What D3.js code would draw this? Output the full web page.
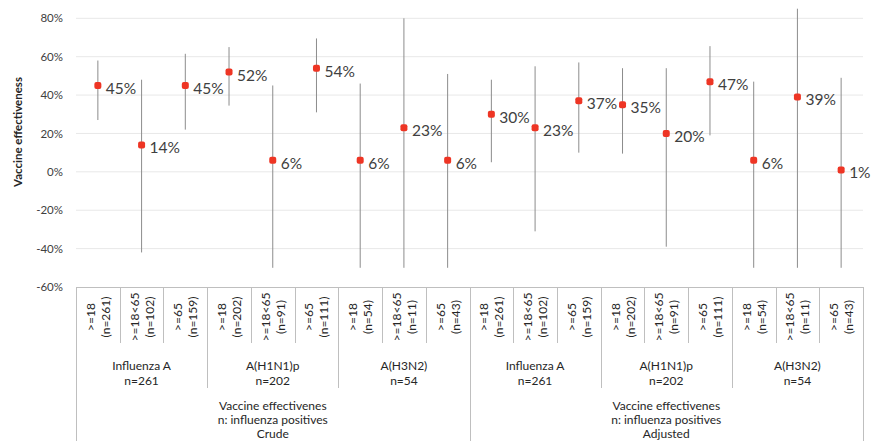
<!DOCTYPE html>
<html><head><meta charset="utf-8">
<script src="https://cdn.jsdelivr.net/npm/d3@7"></script>
<style>body{margin:0;background:#fff}svg{display:block}</style>
</head><body>
<svg id="c" width="886" height="441"></svg>
<script>
const ageLabels = [">=18", ">=18<65", ">=65", ">=18", ">=18<65", ">=65", ">=18", ">=18<65", ">=65",
                   ">=18", ">=18<65", ">=65", ">=18", ">=18<65", ">=65", ">=18", ">=18<65", ">=65"];
const nLabels = ["(n=261)", "(n=102)", "(n=159)", "(n=202)", "(n=91)", "(n=111)", "(n=54)", "(n=11)", "(n=43)",
                 "(n=261)", "(n=102)", "(n=159)", "(n=202)", "(n=91)", "(n=111)", "(n=54)", "(n=11)", "(n=43)"];
const strainLabels = ["Influenza A", "A(H1N1)p", "A(H3N2)", "Influenza A", "A(H1N1)p", "A(H3N2)"];
const strainN = ["n=261", "n=202", "n=54", "n=261", "n=202", "n=54"];
const analysisLabels = ["Crude", "Adjusted"];
const ve    = [45, 14, 45, 52, 6, 54, 6, 23, 6, 30, 23, 37, 35, 20, 47, 6, 39, 1];
const lower = [27, -42, 22, 34.5, -50, 31, -50, -50, -50, 5, -31, 10, 9.5, -39, 19, -50, -50, -50];
const upper = [58, 48, 61.5, 65, 45, 69.5, 46, 80, 51, 48, 55, 57, 54, 54, 65.5, 47, 85, 49];
const yTicks = [-60, -40, -20, 0, 20, 40, 60, 80];

(function () {
const svg = d3.select("#c");
const font = "Lato, 'Open Sans', sans-serif";
const pLeft = 76, pRight = 863, pTop = 18.3, pBottom = 287;
const x = d3.scaleBand().domain(d3.range(ve.length)).range([pLeft, pRight]).padding(0);
const y = d3.scaleLinear().domain([-60, 80]).range([pBottom, pTop]);
const lineCol = "#bfbfbf";

svg.append("g").selectAll("line").data(yTicks.filter(d => d > -60)).join("line")
  .attr("x1", pLeft).attr("x2", pRight).attr("y1", d => y(d)).attr("y2", d => y(d))
  .attr("stroke", "#e8e8e8").attr("stroke-width", 1);

const yAxis = d3.axisLeft(y).tickValues(yTicks).tickFormat(d => d + "%").tickSize(0).tickPadding(13);
const ya = svg.append("g").attr("transform", `translate(${pLeft},0)`).call(yAxis);
ya.select(".domain").remove();
ya.selectAll("text").attr("font-family", font).attr("font-size", 11.5).attr("fill", "#404040");

svg.append("text").attr("transform", `translate(22,132) rotate(-90)`)
  .attr("text-anchor", "middle").attr("font-family", font).attr("font-size", 11.5)
  .attr("font-weight", "bold").attr("fill", "#262626").text("Vaccine effectiveness");

const cx = i => x(i) + x.bandwidth() / 2;
svg.append("g").selectAll("line").data(ve).join("line")
  .attr("x1", (d, i) => cx(i)).attr("x2", (d, i) => cx(i))
  .attr("y1", (d, i) => y(upper[i])).attr("y2", (d, i) => y(lower[i]))
  .attr("stroke", "#8c8c8c").attr("stroke-width", 1);

svg.append("g").selectAll("rect").data(ve).join("rect")
  .attr("x", (d, i) => cx(i) - 3.5).attr("y", d => y(d) - 3.5)
  .attr("width", 7).attr("height", 7).attr("rx", 2)
  .attr("fill", "#ee3524");

svg.append("g").selectAll("text").data(ve).join("text")
  .attr("x", (d, i) => cx(i) + 8).attr("y", d => y(d) + 8.5)
  .attr("font-family", font).attr("font-size", 15.5).attr("fill", "#404040")
  .text(d => d + "%");

const tbl = svg.append("g").attr("stroke", lineCol).attr("stroke-width", 1);
tbl.append("line").attr("x1", pLeft).attr("x2", pRight).attr("y1", pBottom + 0.5).attr("y2", pBottom + 0.5);
d3.range(ve.length + 1).forEach(i => {
  const xx = Math.round(i === ve.length ? pRight : x(i)) + 0.5;
  let y2 = 343;
  if (i % 3 === 0) y2 = 388;
  if (i % 9 === 0) y2 = 441;
  tbl.append("line").attr("x1", xx).attr("x2", xx).attr("y1", pBottom).attr("y2", y2);
});

const l1 = svg.append("g").attr("font-family", font).attr("font-size", 12).attr("fill", "#262626");
ageLabels.forEach((a, i) => {
  const g = l1.append("g").attr("transform", `translate(${cx(i)},317) rotate(-90)`);
  g.append("text").attr("x", 0).attr("y", -3).attr("text-anchor", "middle").text(a);
  g.append("text").attr("x", 0).attr("y", 12).attr("text-anchor", "middle").text(nLabels[i]);
});

strainLabels.forEach((s, k) => {
  const xc = (x(k * 3) + (k * 3 + 3 >= ve.length ? pRight : x(k * 3 + 3))) / 2;
  l1.append("text").attr("x", xc).attr("y", 370).attr("text-anchor", "middle").text(s);
  l1.append("text").attr("x", xc).attr("y", 385).attr("text-anchor", "middle").text(strainN[k]);
});

analysisLabels.forEach((s, k) => {
  const xc = (x(k * 9) + (k * 9 + 9 >= ve.length ? pRight : x(k * 9 + 9))) / 2;
  l1.append("text").attr("x", xc).attr("y", 410).attr("text-anchor", "middle").text("Vaccine effectivenes");
  l1.append("text").attr("x", xc).attr("y", 424).attr("text-anchor", "middle").text("n: influenza positives");
  l1.append("text").attr("x", xc).attr("y", 437.5).attr("text-anchor", "middle").text(s);
});
})();
</script>
</body></html>
